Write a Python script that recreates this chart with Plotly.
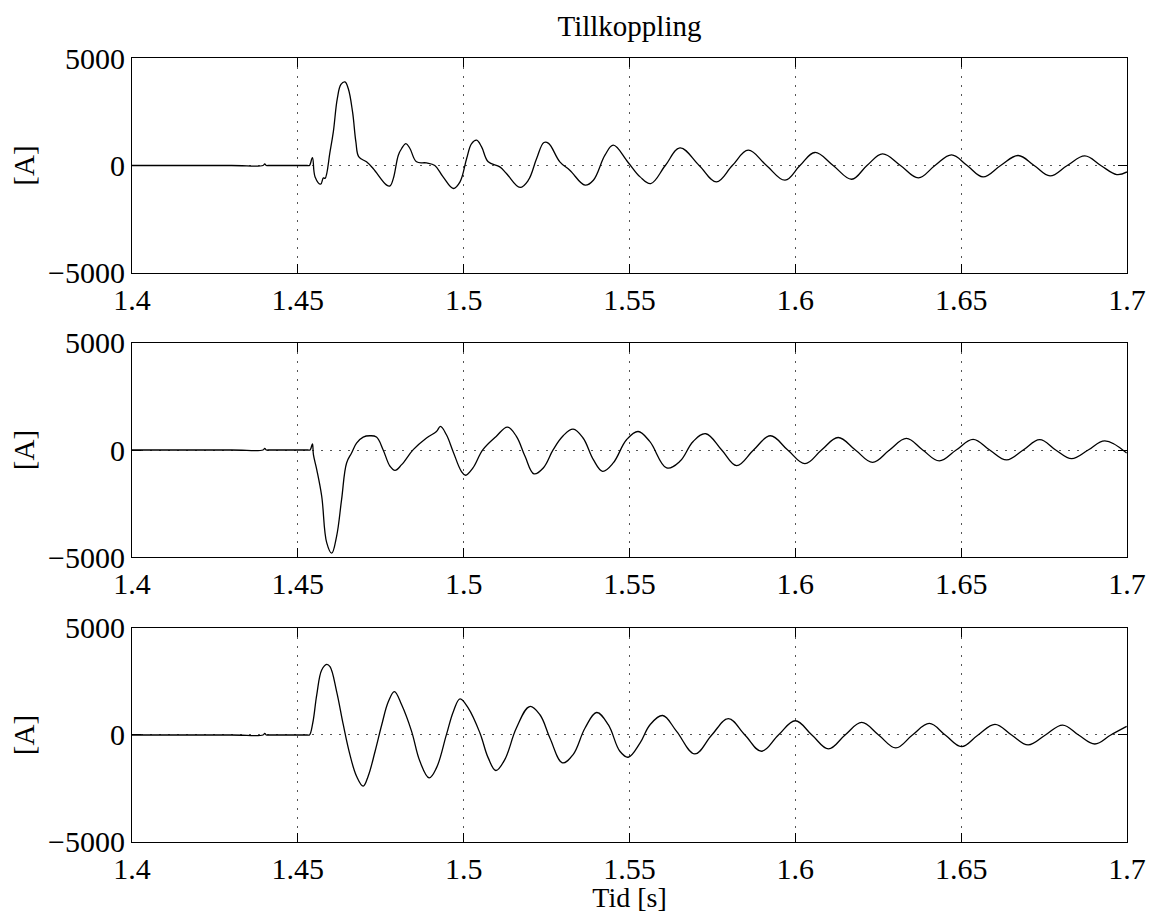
import plotly.graph_objects as go
from plotly.subplots import make_subplots

# ---- data (time [s], current [A]) ----
t1 = [1.400, 1.4300, 1.4395, 1.4400, 1.4405, 1.4410, 1.4500, 1.4528, 1.4535, 1.4544,
      1.4552, 1.4569, 1.4577, 1.4582,
      1.4597, 1.4607, 1.4619, 1.4630, 1.4642, 1.4652, 1.4665, 1.4675, 1.4684, 1.4707,
      1.4727, 1.4768, 1.4778, 1.4788, 1.4803, 1.4813, 1.4826, 1.4838, 1.4858, 1.4888,
      1.4913, 1.4938, 1.4969, 1.4989, 1.5009, 1.5024, 1.5039, 1.5054, 1.5074, 1.5109,
      1.5129, 1.5170, 1.5195, 1.5220, 1.5242, 1.5256, 1.5290, 1.5320, 1.5366, 1.5391,
      1.5426, 1.5451, 1.5496, 1.5532, 1.5564, 1.5608, 1.5652, 1.5710, 1.5762, 1.5810,
      1.5858, 1.5913, 1.5969, 1.6014, 1.6059, 1.6114, 1.6170, 1.6216, 1.6263, 1.6317,
      1.6371, 1.6421, 1.6471, 1.6518, 1.6566, 1.6619, 1.6672, 1.6720, 1.6768, 1.6820,
      1.6873, 1.6921, 1.6969, 1.7000]
a1 = [0, 0, 0, 70, 0, 0, 0, 0, 0, 370,
      -530, -870, -575, -600,
      635, 1560, 3110, 3770, 3890, 3580, 2490, 1100, 400, 170,
      -140, -915, -950, -600, 480, 790, 1020, 790, 170, 120,
      0, -530, -1070, -760, 325, 1020, 1175, 865, 170, -65,
      -370, -1020, -685, 325, 1070, 1030, 170, -220, -915, -685,
      480, 945, 140, -530, -840, 0, 820, 0, -760, 0,
      710, 0, -685, 0, 605, 0, -640, 0, 540, 0,
      -575, 0, 495, 0, -530, 0, 465, 0, -485, 0,
      445, 0, -420, -300]

t2 = [1.400, 1.4300, 1.4395, 1.4400, 1.4405, 1.4410, 1.4500, 1.4530, 1.4537, 1.4544,
      1.4547, 1.4557, 1.4572, 1.4587,
      1.4602, 1.4617, 1.4632, 1.4647, 1.4662, 1.4677, 1.4697, 1.4717, 1.4737, 1.4757,
      1.4778, 1.4793, 1.4813, 1.4848, 1.4888, 1.4918, 1.4930, 1.4948, 1.4968, 1.4993,
      1.5006, 1.5028, 1.5058, 1.5098, 1.5132, 1.5159, 1.5185, 1.5212, 1.5240, 1.5270,
      1.5300, 1.5330, 1.5360, 1.5391, 1.5419, 1.5451, 1.5491, 1.5526, 1.5561, 1.5612,
      1.5652, 1.5692, 1.5730, 1.5778, 1.5823, 1.5874, 1.5925, 1.5977, 1.6029, 1.6079,
      1.6129, 1.6181, 1.6233, 1.6284, 1.6335, 1.6384, 1.6434, 1.6485, 1.6536, 1.6586,
      1.6637, 1.6687, 1.6737, 1.6785, 1.6833, 1.6883, 1.6933, 1.6999]
a2 = [0, 0, 0, 70, 0, 0, 0, 0, 0, 290,
      -220, -915, -2160, -4330,
      -4820, -4020, -2310, -605, -140, 325, 605, 665, 605, 15,
      -760, -950, -685, 15, 560, 865, 1100, 710, -65, -995,
      -1180, -840, 15, 635, 1070, 635, -295, -1115, -840, 15,
      665, 975, 560, -450, -995, -605, 480, 865, 400, -840,
      -530, 400, 760, 0, -730, 0, 665, 0, -640, 0,
      585, 0, -575, 0, 540, 0, -510, 0, 495, 0,
      -465, 0, 480, 0, -405, 0, 430, -140]

t3 = [1.400, 1.4300, 1.4395, 1.4400, 1.4405, 1.4410, 1.4500, 1.4528, 1.4535, 1.4545,
      1.4557, 1.4572, 1.4587, 1.4597,
      1.4617, 1.4637, 1.4657, 1.4677, 1.4697, 1.4712, 1.4733, 1.4753, 1.4773, 1.4791,
      1.4813, 1.4843, 1.4868, 1.4896, 1.4918, 1.4948, 1.4969, 1.4989, 1.5014, 1.5049,
      1.5074, 1.5097, 1.5124, 1.5159, 1.5199, 1.5230, 1.5260, 1.5298, 1.5330, 1.5366,
      1.5401, 1.5436, 1.5471, 1.5496, 1.5532, 1.5562, 1.5600, 1.5642, 1.5697, 1.5748,
      1.5798, 1.5848, 1.5898, 1.5949, 1.6000, 1.6050, 1.6100, 1.6150, 1.6200, 1.6251,
      1.6303, 1.6353, 1.6404, 1.6452, 1.6501, 1.6551, 1.6602, 1.6652, 1.6702, 1.6754,
      1.6806, 1.6854, 1.6903, 1.6951, 1.6999]
a3 = [0, 0, 0, 70, 0, 0, 0, 0, 0, 560,
      1870, 3040, 3300, 3190,
      2030, 480, -915, -1925, -2390, -1925, -760, 480, 1560, 2030,
      1410, 170, -1230, -2000, -1535, 15, 1100, 1690, 1255, 95,
      -1070, -1660, -1150, 325, 1330, 945, -140, -1300, -915, 325,
      1050, 480, -760, -1040, -370, 480, 910, 170, -885, 0,
      760, 0, -760, 0, 665, 0, -650, 0, 585, 0,
      -605, 0, 540, 0, -545, 0, 495, 0, -465, 0,
      465, 0, -420, 0, 400]

x_ticks = [1.4, 1.45, 1.5, 1.55, 1.6, 1.65, 1.7]
x_labels = ["1.4", "1.45", "1.5", "1.55", "1.6", "1.65", "1.7"]
y_ticks = [-5000, 0, 5000]
y_labels = ["\u22125000", "0", "5000"]

FONT = "Liberation Serif, Times New Roman, Times, serif"
TICK_SIZE = 30
LABEL_SIZE = 29

fig = make_subplots(rows=3, cols=1, shared_xaxes=False, vertical_spacing=0.0)

for i, (t, a) in enumerate([(t1, a1), (t2, a2), (t3, a3)], start=1):
    fig.add_trace(go.Scatter(x=t, y=a, mode="lines",
                             line=dict(color="black", width=1.3, shape="spline", smoothing=1.1),
                             showlegend=False, hoverinfo="skip"), row=i, col=1)

domains = [[0.7258, 1.0], [0.3635, 0.6365], [0.0, 0.273]]
for i in range(1, 4):
    xa = "xaxis" if i == 1 else f"xaxis{i}"
    ya = "yaxis" if i == 1 else f"yaxis{i}"
    fig.layout[xa].update(
        range=[1.4, 1.7], tickvals=x_ticks, ticktext=x_labels, automargin=False,
        showline=True, linecolor="black", linewidth=1, mirror="ticks",
        ticks="inside", ticklen=9, tickcolor="black",
        showgrid=True, gridcolor="#555555", griddash="2px,7px", gridwidth=1,
        zeroline=False, tickfont=dict(family=FONT, size=TICK_SIZE, color="black"),
    )
    fig.layout[ya].update(
        domain=domains[i - 1], range=[-5000, 5000], tickvals=y_ticks, ticktext=y_labels,
        automargin=False,
        showline=True, linecolor="black", linewidth=1, mirror="ticks",
        ticks="inside", ticklen=9, tickcolor="black",
        showgrid=True, gridcolor="#555555", griddash="2px,7px", gridwidth=1,
        zeroline=False, tickfont=dict(family=FONT, size=TICK_SIZE, color="black"),
        title=dict(text="[A]", font=dict(family=FONT, size=LABEL_SIZE, color="black"), standoff=4),
    )

fig.layout.xaxis3.title = dict(text="Tid [s]", font=dict(family=FONT, size=28, color="black"), standoff=5)

fig.update_layout(
    width=1150, height=913,
    margin=dict(l=132, r=23, t=58, b=71, autoexpand=False),
    paper_bgcolor="white", plot_bgcolor="white",
    title=dict(text="Tillkoppling", xref="paper", x=0.5, xanchor="center",
               yref="container", y=0.972, yanchor="middle", automargin=False,
               font=dict(family=FONT, size=LABEL_SIZE, color="black")),
    font=dict(family=FONT, color="black"),
)

fig.write_html("out.html")
